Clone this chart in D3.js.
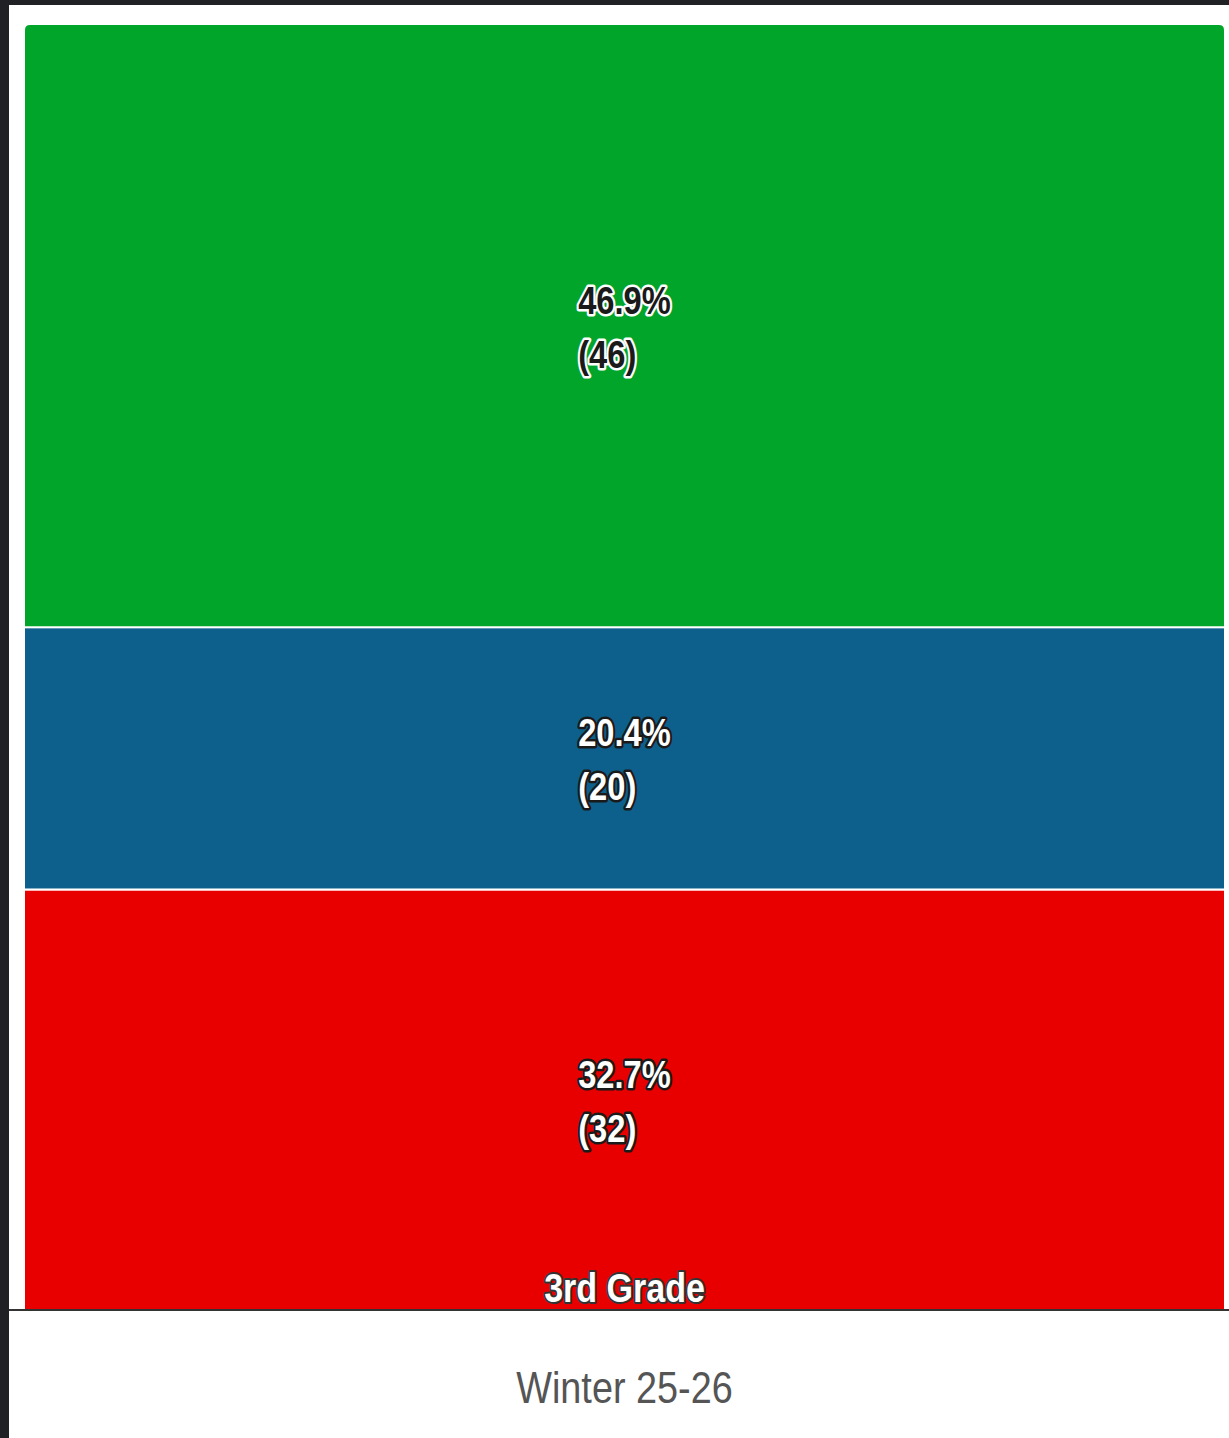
<!DOCTYPE html>
<html>
<head>
<meta charset="utf-8">
<script src="https://cdn.jsdelivr.net/npm/d3@7"></script>
<style>
	html, body { margin: 0; padding: 0; background: #202124; }
	svg { display: block; }
	text { font-family: "Liberation Sans", Arial, sans-serif; }
</style>
</head>
<body>
<svg id="chart" width="1229" height="1438"></svg>
<script>
// values
var categories = ["Winter 25-26"];
var groupLabel = "3rd Grade";
var seriesNames = ["Level 1", "Level 2", "Level 3"]; // bottom to top
var seriesCounts = [32, 20, 46];
var seriesPercents = [32.7, 20.4, 46.9];
var seriesColors = ["#e80000", "#0e608c", "#00a52a"];
var labelFill = ["#ffffff", "#ffffff", "#1a1a1a"];
var labelHalo = ["#1a1a1a", "#1a1a1a", "#ffffff"];

var svg = d3.select("#chart");
var width = +svg.attr("width");
var height = +svg.attr("height");
var narrow = 0.86; // reference font is condensed

// white page area inside the dark frame
svg.append("rect")
	.attr("x", 9).attr("y", 5)
	.attr("width", width - 9).attr("height", height - 5)
	.attr("fill", "#ffffff");

var plot = {left: 24, right: 1225, top: 24, bottom: 1310};

var x = d3.scaleBand()
	.domain(categories)
	.range([plot.left, plot.right])
	.padding(0);

var y = d3.scaleLinear()
	.domain([0, 100])
	.range([plot.bottom, plot.top]);

// stack percents bottom to top
var stackRows = [{}];
seriesNames.forEach(function(n, i){ stackRows[0][n] = seriesPercents[i]; });
var stacked = d3.stack().keys(seriesNames)(stackRows);

var g = svg.append("g");

stacked.forEach(function(layer, i){
	var d = layer[0];
	var top = i === stacked.length - 1;
	var x0 = x(categories[0]), w = x.bandwidth();
	var y0 = y(d[1]), y1 = y(d[0]);
	if (top) {
		// rounded top corners
		var r = 6;
		var p = d3.path();
		p.moveTo(x0, y1);
		p.lineTo(x0, y0 + r);
		p.quadraticCurveTo(x0, y0, x0 + r, y0);
		p.lineTo(x0 + w - r, y0);
		p.quadraticCurveTo(x0 + w, y0, x0 + w, y0 + r);
		p.lineTo(x0 + w, y1);
		p.closePath();
		g.append("path")
			.attr("d", p.toString())
			.attr("fill", seriesColors[i])
			.attr("stroke", "#ffffff")
			.attr("stroke-width", 2);
	} else {
		g.append("rect")
			.attr("x", x0).attr("y", y0)
			.attr("width", w).attr("height", y1 - y0)
			.attr("fill", seriesColors[i])
			.attr("stroke", "#ffffff")
			.attr("stroke-width", 2);
	}
});

// data labels: percent + count, left aligned in a block centred on the bar
var cx = x(categories[0]) + x.bandwidth() / 2;
stacked.forEach(function(layer, i){
	var d = layer[0];
	var mid = (y(d[0]) + y(d[1])) / 2;
	var holder = g.append("g");
	var t = holder.append("text")
		.attr("font-size", 38)
		.attr("font-weight", "bold")
		.attr("fill", labelFill[i])
		.attr("stroke", labelHalo[i])
		.attr("stroke-width", 5)
		.attr("stroke-linejoin", "round")
		.attr("paint-order", "stroke");
	var l1 = t.append("tspan").attr("x", 0).attr("y", -12)
		.text(seriesPercents[i].toFixed(1) + "%");
	t.append("tspan").attr("x", 0).attr("y", 42)
		.text("(" + seriesCounts[i] + ")");
	var w1 = l1.node().getComputedTextLength() * narrow;
	holder.attr("transform", "translate(" + (cx - w1 / 2) + "," + mid + ") scale(" + narrow + ",1)");
});

// group label inside the bottom of the bar
g.append("g")
	.attr("transform", "translate(" + cx + ",1302) scale(0.83,1)")
	.append("text")
	.attr("text-anchor", "middle")
	.attr("font-size", 41)
	.attr("font-weight", "bold")
	.attr("fill", "#ffffff")
	.attr("stroke", "#333333")
	.attr("stroke-width", 4)
	.attr("stroke-linejoin", "round")
	.attr("paint-order", "stroke")
	.text(groupLabel);

// x axis
var xAxis = d3.axisBottom(x).tickSize(0).tickPadding(62);
var ax = svg.append("g")
	.attr("transform", "translate(0," + plot.bottom + ")")
	.call(xAxis);
ax.select(".domain")
	.attr("d", "M9,0H" + width)
	.attr("stroke", "#333333")
	.attr("stroke-width", 2);
ax.selectAll(".tick text")
	.attr("font-size", 44)
	.attr("fill", "#555555")
	.attr("transform", "scale(0.86,1)")
	.style("font-family", "'Liberation Sans', Arial, sans-serif");
</script>
</body>
</html>
